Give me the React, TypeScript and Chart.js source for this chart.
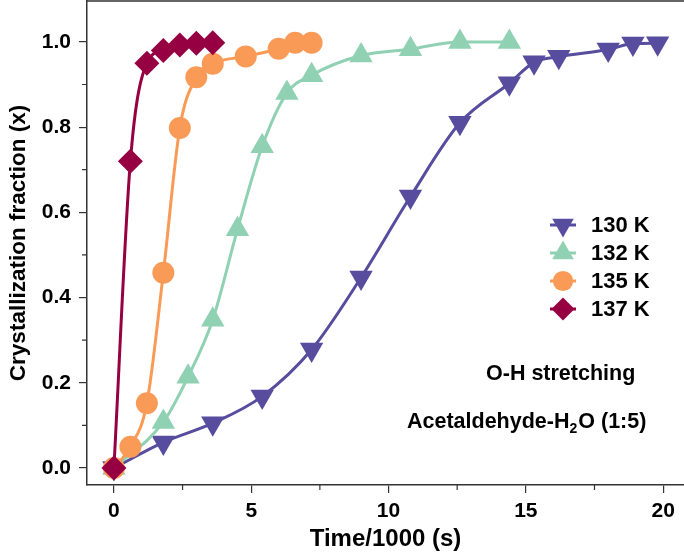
import React, { useEffect, useRef } from 'react';
import { Chart, registerables } from 'chart.js';

Chart.register(...registerables);

// ---------- data ----------
const seriesLabels = ['130 K', '132 K', '135 K', '137 K'];

const time130 = [0, 1.8, 3.6, 5.4, 7.2, 9.0, 10.8, 12.6, 14.4, 15.3, 16.2, 18.0, 18.9, 19.8];
const frac130 = [0, 0.06, 0.105, 0.168, 0.278, 0.447, 0.637, 0.81, 0.903, 0.952, 0.965, 0.982, 0.996, 0.997];

const time132 = [0, 1.8, 2.7, 3.6, 4.5, 5.4, 6.3, 7.2, 9.0, 10.8, 12.6, 14.4];
const frac132 = [0, 0.108, 0.214, 0.348, 0.56, 0.755, 0.88, 0.922, 0.968, 0.983, 1.0, 1.0];

const time135 = [0, 0.6, 1.2, 1.8, 2.4, 3.0, 3.6, 4.8, 6.0, 6.6, 7.2];
const frac135 = [0, 0.05, 0.152, 0.458, 0.798, 0.917, 0.949, 0.966, 0.984, 0.998, 0.998];

const time137 = [0, 0.6, 1.2, 1.8, 2.4, 3.0, 3.6];
const frac137 = [0, 0.72, 0.95, 0.98, 0.993, 0.997, 0.998];

const xMajorTicks = [0, 5, 10, 15, 20];
const xMinorTicks = [2.5, 7.5, 12.5, 17.5];
const yMajorTicks = [0, 0.2, 0.4, 0.6, 0.8, 1.0];
const yMinorTicks = [0.1, 0.3, 0.5, 0.7, 0.9];

const xTitle = 'Time/1000 (s)';
const yTitle = 'Crystallization fraction (x)';
const note1 = 'O-H stretching';
const note2Parts = ['Acetaldehyde-H', '2', 'O (1:5)'];

// ---------- styles ----------
const FONT = "'Liberation Sans', Arial, Helvetica, sans-serif";
const colors = ['#574C9E', '#8FD1B2', '#F99B57', '#960042'];
const pointStyles = ['triangle', 'triangle', 'circle', 'rectRot'];
const rotations = [180, 0, 0, 0];
const radii = [13.5, 13.5, 11, 12.5];
const orders = [4, 3, 2, 1];
const AXIS_COLOR = '#333333';

function zip(xs: number[], ys: number[]) {
  return xs.map((x, i) => ({ x, y: ys[i] }));
}

function drawMarker(ctx: CanvasRenderingContext2D, style: string, rot: number, r: number, x: number, y: number) {
  ctx.beginPath();
  if (style === 'circle') {
    ctx.arc(x, y, r, 0, Math.PI * 2);
  } else if (style === 'rectRot') {
    ctx.moveTo(x - r, y);
    ctx.lineTo(x, y - r);
    ctx.lineTo(x + r, y);
    ctx.lineTo(x, y + r);
    ctx.closePath();
  } else {
    let rad = (rot * Math.PI) / 180;
    ctx.moveTo(x + Math.sin(rad) * r, y - Math.cos(rad) * r);
    rad += (2 * Math.PI) / 3;
    ctx.lineTo(x + Math.sin(rad) * r, y - Math.cos(rad) * r);
    rad += (2 * Math.PI) / 3;
    ctx.lineTo(x + Math.sin(rad) * r, y - Math.cos(rad) * r);
    ctx.closePath();
  }
  ctx.fill();
}

const decorPlugin = {
  id: 'decor',
  afterDraw(chart: any) {
    const { ctx, chartArea, scales } = chart;
    const { left, right, top, bottom } = chartArea;
    const xs = scales.x;
    const ys = scales.y;
    ctx.save();
    ctx.strokeStyle = AXIS_COLOR;
    ctx.lineWidth = 1.5;
    ctx.beginPath();
    ctx.moveTo(left, top);
    ctx.lineTo(right, top);
    ctx.stroke();
    ctx.lineWidth = 1.2;
    ctx.beginPath();
    xMinorTicks.forEach((v) => {
      const px = xs.getPixelForValue(v);
      ctx.moveTo(px, bottom);
      ctx.lineTo(px, bottom + 5);
    });
    yMinorTicks.forEach((v) => {
      const py = ys.getPixelForValue(v);
      ctx.moveTo(left - 5, py);
      ctx.lineTo(left, py);
    });
    ctx.stroke();

    // legend
    const legX = 563;
    const legY0 = 225;
    const legDy = 28;
    chart.data.datasets.forEach((ds: any, i: number) => {
      const cy = legY0 + i * legDy;
      ctx.strokeStyle = ds.borderColor;
      ctx.lineWidth = 3;
      ctx.beginPath();
      ctx.moveTo(legX - 13, cy);
      ctx.lineTo(legX + 13, cy);
      ctx.stroke();
      ctx.fillStyle = ds.backgroundColor;
      drawMarker(ctx, pointStyles[i], rotations[i], radii[i] * 0.92, legX, cy);
      ctx.fillStyle = '#000';
      ctx.font = `bold 22px ${FONT}`;
      ctx.textAlign = 'left';
      ctx.textBaseline = 'middle';
      ctx.fillText(ds.label, 591, cy + 1);
    });

    // notes
    ctx.fillStyle = '#000';
    ctx.textBaseline = 'alphabetic';
    ctx.textAlign = 'left';
    ctx.font = `bold 21.5px ${FONT}`;
    ctx.fillText(note1, 486, 380);
    let tx = 407;
    const by = 428;
    ctx.fillText(note2Parts[0], tx, by);
    tx += ctx.measureText(note2Parts[0]).width;
    ctx.font = `bold 14px ${FONT}`;
    ctx.fillText(note2Parts[1], tx, by + 5);
    tx += ctx.measureText(note2Parts[1]).width + 1;
    ctx.font = `bold 21.5px ${FONT}`;
    ctx.fillText(note2Parts[2], tx, by);
    ctx.restore();
  },
};

export default function App() {
  const ref = useRef<HTMLCanvasElement | null>(null);
  useEffect(() => {
    if (!ref.current) return;
    const series = [
      zip(time130, frac130),
      zip(time132, frac132),
      zip(time135, frac135),
      zip(time137, frac137),
    ];
    const chart = new Chart(ref.current, {
      type: 'line',
      data: {
        datasets: series.map((d, i) => ({
          label: seriesLabels[i],
          data: d,
          borderColor: colors[i],
          backgroundColor: colors[i],
          borderWidth: 3,
          pointStyle: pointStyles[i] as any,
          rotation: rotations[i],
          pointRadius: radii[i],
          pointBorderWidth: 0,
          pointHoverRadius: radii[i],
          cubicInterpolationMode: 'monotone' as const,
          fill: false,
          clip: false as any,
          order: orders[i],
        })),
      },
      options: {
        animation: false,
        responsive: true,
        maintainAspectRatio: false,
        layout: { autoPadding: false, padding: { top: 1, left: 0, right: 0, bottom: 0 } },
        plugins: { legend: { display: false }, tooltip: { enabled: false } },
        scales: {
          x: {
            type: 'linear',
            min: -0.98,
            max: 20.76,
            afterBuildTicks: (s: any) => {
              s.ticks = xMajorTicks.map((v) => ({ value: v }));
            },
            afterFit: (s: any) => {
              s.height = 73;
              s.paddingLeft = 0;
              s.paddingRight = 0;
              s.paddingTop = 0;
              s.paddingBottom = 0;
            },
            grid: { display: true, drawOnChartArea: false, drawTicks: true, tickLength: 8, color: AXIS_COLOR, lineWidth: 1.2 },
            border: { display: true, color: AXIS_COLOR, width: 1.5 },
            ticks: {
              color: '#000',
              font: { family: FONT, size: 21, weight: 'bold' },
              padding: 6,
              maxRotation: 0,
              callback: (v: any) => String(v),
            },
            title: {
              display: true,
              text: xTitle,
              color: '#000',
              font: { family: FONT, size: 24, weight: 'bold' },
              padding: { top: 0, bottom: 4 },
            },
          },
          y: {
            type: 'linear',
            min: -0.04,
            max: 1.096,
            afterBuildTicks: (s: any) => {
              s.ticks = yMajorTicks.map((v) => ({ value: v }));
            },
            afterFit: (s: any) => {
              s.width = 87;
              s.paddingLeft = 0;
              s.paddingRight = 0;
              s.paddingTop = 0;
              s.paddingBottom = 0;
            },
            grid: { display: true, drawOnChartArea: false, drawTicks: true, tickLength: 8, color: AXIS_COLOR, lineWidth: 1.2 },
            border: { display: true, color: AXIS_COLOR, width: 1.5 },
            ticks: {
              color: '#000',
              font: { family: FONT, size: 21, weight: 'bold' },
              padding: 8,
              callback: (v: any) => Number(v).toFixed(1),
            },
            title: {
              display: true,
              text: yTitle,
              color: '#000',
              font: { family: FONT, size: 22.5, weight: 'bold' },
              padding: { top: 5, bottom: 0 },
            },
          },
        },
      },
      plugins: [decorPlugin],
    });
    return () => chart.destroy();
  }, []);

  return (
    <div style={{ position: 'absolute', left: 0, top: 0, width: 684, height: 558, background: '#fff' }}>
      <canvas ref={ref} />
    </div>
  );
}
